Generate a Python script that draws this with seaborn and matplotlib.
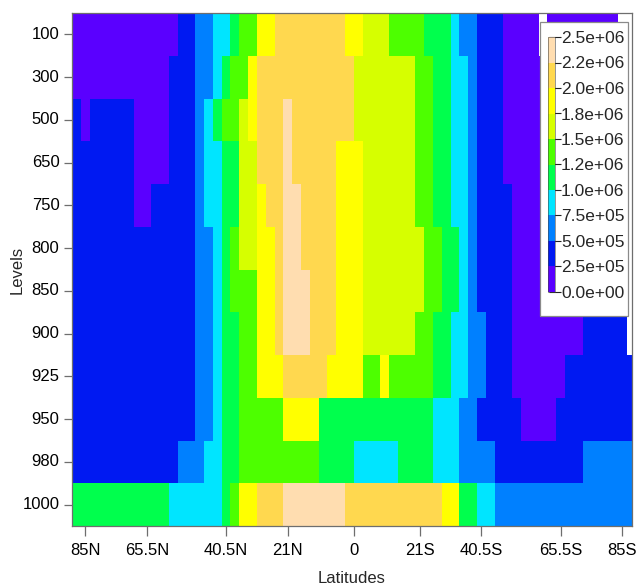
import numpy as np
import pandas as pd
import matplotlib
matplotlib.use("Agg")
import matplotlib.pyplot as plt
import matplotlib.colors as mcolors
import matplotlib.cm as cm
from matplotlib.patches import Rectangle
import seaborn as sns

nan = float("nan")

# Gaussian-grid latitudes (northern half), mirrored for the south
lat_north = [87.86, 85.10, 82.31, 79.53, 76.74, 73.95, 71.16, 68.37, 65.58, 62.79,
             60.00, 57.21, 54.42, 51.63, 48.84, 46.04, 43.25, 40.46, 37.67, 34.88,
             32.09, 29.30, 26.51, 23.72, 20.93, 18.14, 15.35, 12.56, 9.77, 6.98,
             4.19, 1.40]
lats = lat_north + [-v for v in reversed(lat_north)]

levels = ["100", "300", "500", "650", "750", "800", "850", "900", "925", "950", "980", "1000"]

# values in units of 1e6
lev_100 = [0.1,0.1,0.1,0.1,0.1,0.1,0.1,0.1,0.1,0.1,0.1,0.1,0.4,0.4,0.6,0.6,0.9,0.9,1.1,1.4,1.4,1.9,1.9,2.1,2.1,2.1,2.1,2.1,2.1,2.1,2.1,1.9,
           1.9,1.6,1.6,1.6,1.4,1.4,1.4,1.4,1.1,1.1,1.1,0.9,0.6,0.6,0.4,0.4,0.4,0.1,0.1,0.1,0.1,nan,0.1,0.1,0.1,0.1,0.1,0.1,0.1,0.1,nan,nan]
lev_300 = [0.1,0.1,0.1,0.1,0.1,0.1,0.1,0.1,0.1,0.1,0.1,0.4,0.4,0.4,0.6,0.6,0.9,1.1,1.4,1.4,1.9,2.1,2.1,2.1,2.1,2.1,2.1,2.1,2.1,2.1,2.1,2.1,
           1.6,1.6,1.6,1.6,1.6,1.6,1.6,1.4,1.4,1.1,1.1,0.9,0.9,0.6,0.4,0.4,0.4,0.1,0.1,0.1,0.1,0.1,0.1,0.1,0.1,0.1,0.4,0.4,0.4,0.4,0.4,nan]
lev_500 = [0.4,0.1,0.4,0.4,0.4,0.4,0.4,0.1,0.1,0.1,0.1,0.4,0.4,0.4,0.6,0.9,1.1,1.4,1.4,1.6,1.9,2.1,2.1,2.1,2.4,2.1,2.1,2.1,2.1,2.1,2.1,2.1,
           1.6,1.6,1.6,1.6,1.6,1.6,1.6,1.4,1.4,1.1,1.1,0.9,0.9,0.6,0.4,0.4,0.4,0.1,0.1,0.1,0.1,0.1,0.1,0.1,0.1,0.1,0.4,0.4,0.4,0.4,0.4,nan]
lev_650 = [0.4,0.4,0.4,0.4,0.4,0.4,0.4,0.1,0.1,0.1,0.1,0.4,0.4,0.4,0.6,0.9,0.9,1.1,1.1,1.6,1.6,2.1,2.1,2.1,2.4,2.1,2.1,2.1,2.1,2.1,1.9,1.9,
           1.9,1.6,1.6,1.6,1.6,1.6,1.6,1.4,1.4,1.1,1.1,0.9,0.9,0.6,0.4,0.4,0.4,0.1,0.1,0.1,0.1,0.1,0.1,0.1,0.1,0.1,0.4,0.4,0.4,0.4,0.4,nan]
lev_750 = [0.4,0.4,0.4,0.4,0.4,0.4,0.4,0.1,0.1,0.4,0.4,0.4,0.4,0.4,0.6,0.9,0.9,1.1,1.1,1.6,1.6,1.9,2.1,2.1,2.4,2.4,2.1,2.1,2.1,2.1,1.9,1.9,
           1.9,1.6,1.6,1.6,1.6,1.6,1.6,1.4,1.4,1.1,1.1,0.9,0.9,0.6,0.4,0.4,0.4,0.4,0.1,0.1,0.1,0.1,0.1,0.1,0.1,0.1,0.4,0.4,0.4,0.4,0.4,nan]
lev_800 = [0.4,0.4,0.4,0.4,0.4,0.4,0.4,0.4,0.4,0.4,0.4,0.4,0.4,0.4,0.6,0.6,0.9,1.1,1.4,1.6,1.6,1.9,1.9,2.1,2.4,2.4,2.1,2.1,2.1,2.1,1.9,1.9,
           1.9,1.6,1.6,1.6,1.6,1.6,1.6,1.6,1.4,1.4,1.1,1.1,0.9,0.6,0.4,0.4,0.4,0.4,0.1,0.1,0.1,0.1,0.1,0.1,0.1,0.1,0.4,0.4,0.4,0.4,0.4,nan]
lev_850 = [0.4,0.4,0.4,0.4,0.4,0.4,0.4,0.4,0.4,0.4,0.4,0.4,0.4,0.4,0.6,0.6,0.9,1.1,1.4,1.4,1.4,1.9,1.9,2.1,2.4,2.4,2.4,2.1,2.1,2.1,1.9,1.9,
           1.9,1.6,1.6,1.6,1.6,1.6,1.6,1.6,1.4,1.4,1.1,1.1,0.9,0.6,0.4,0.4,0.4,0.4,0.1,0.1,0.1,0.1,0.1,0.1,0.1,0.1,0.4,0.4,0.4,0.4,0.4,nan]
lev_900 = [0.4,0.4,0.4,0.4,0.4,0.4,0.4,0.4,0.4,0.4,0.4,0.4,0.4,0.4,0.6,0.6,0.9,1.1,1.1,1.4,1.4,1.9,1.9,2.1,2.4,2.4,2.4,2.1,2.1,2.1,1.9,1.9,
           1.9,1.6,1.6,1.6,1.6,1.6,1.6,1.4,1.4,1.1,1.1,0.9,0.9,0.6,0.6,0.4,0.4,0.4,0.1,0.1,0.1,0.1,0.1,0.1,0.1,0.1,0.4,0.4,0.4,0.4,0.4,nan]
lev_925 = [0.4,0.4,0.4,0.4,0.4,0.4,0.4,0.4,0.4,0.4,0.4,0.4,0.4,0.4,0.6,0.6,0.9,1.1,1.1,1.4,1.4,1.9,1.9,1.9,2.1,2.1,2.1,2.1,2.1,1.9,1.9,1.9,
           1.9,1.4,1.4,1.9,1.4,1.4,1.4,1.4,1.4,1.1,1.1,0.9,0.9,0.6,0.6,0.4,0.4,0.4,0.1,0.1,0.1,0.1,0.1,0.1,0.4,0.4,0.4,0.4,0.4,0.4,0.4,0.4]
lev_950 = [0.4,0.4,0.4,0.4,0.4,0.4,0.4,0.4,0.4,0.4,0.4,0.4,0.4,0.4,0.6,0.6,0.9,1.1,1.1,1.4,1.4,1.4,1.4,1.4,1.9,1.9,1.9,1.9,1.1,1.1,1.1,1.1,
           1.1,1.1,1.1,1.1,1.1,1.1,1.1,1.1,1.1,0.9,0.9,0.9,0.6,0.6,0.4,0.4,0.4,0.4,0.4,0.1,0.1,0.1,0.1,0.4,0.4,0.4,0.4,0.4,0.4,0.4,0.4,0.4]
lev_980 = [0.4,0.4,0.4,0.4,0.4,0.4,0.4,0.4,0.4,0.4,0.4,0.4,0.6,0.6,0.6,0.9,0.9,1.1,1.1,1.4,1.4,1.4,1.4,1.4,1.4,1.4,1.4,1.4,1.1,1.1,1.1,1.1,
           0.9,0.9,0.9,0.9,0.9,1.1,1.1,1.1,1.1,0.9,0.9,0.9,0.6,0.6,0.6,0.6,0.4,0.4,0.4,0.4,0.4,0.4,0.4,0.4,0.4,0.4,0.6,0.6,0.6,0.6,0.6,0.6]
lev_1000 = [1.1,1.1,1.1,1.1,1.1,1.1,1.1,1.1,1.1,1.1,1.1,0.9,0.9,0.9,0.9,0.9,0.9,1.1,1.4,1.9,1.9,2.1,2.1,2.1,2.4,2.4,2.4,2.4,2.4,2.4,2.4,2.1,
            2.1,2.1,2.1,2.1,2.1,2.1,2.1,2.1,2.1,2.1,1.9,1.9,1.1,1.1,0.9,0.9,0.6,0.6,0.6,0.6,0.6,0.6,0.6,0.6,0.6,0.6,0.6,0.6,0.6,0.6,0.6,0.6]

rows = [lev_100, lev_300, lev_500, lev_650, lev_750, lev_800, lev_850, lev_900,
        lev_925, lev_950, lev_980, lev_1000]
for r in rows:
    assert len(r) == 64, len(r)

tick_lats = [85.10, 65.58, 40.46, 20.93, 0.0, -20.93, -40.46, -65.58, -85.10]
tick_labels = ["85N", "65.5N", "40.5N", "21N", "0", "21S", "40.5S", "65.5S", "85S"]

bounds = [0.0, 0.25, 0.5, 0.75, 1.0, 1.25, 1.5, 1.75, 2.0, 2.25, 2.5]
bound_labels = ["0.0e+00", "2.5e+05", "5.0e+05", "7.5e+05", "1.0e+06", "1.2e+06",
                "1.5e+06", "1.8e+06", "2.0e+06", "2.2e+06", "2.5e+06"]
colors = ["#5A00FF", "#0019F2", "#0080FF", "#00E5FF", "#00FF4D",
          "#4DFF00", "#D6FF00", "#FFFF00", "#FFD84F", "#FFDDB0"]

df = pd.DataFrame(rows, index=levels, columns=lats)

cmap = mcolors.ListedColormap(colors)
norm = mcolors.BoundaryNorm(bounds, cmap.N)

sns.set_style("white")
plt.rcParams["font.family"] = ["Liberation Sans", "DejaVu Sans"]

FS = 12

fig = plt.figure(figsize=(6.36, 5.87), dpi=100)
ax = fig.add_axes([72 / 636, 1 - 526 / 587, 560 / 636, 513 / 587])
sns.heatmap(df, ax=ax, cmap=cmap, norm=norm, cbar=False, linewidths=0)
ax.set_xlim(0, 63.6)

frame_col = "#6e6e6e"
for s in ax.spines.values():
    s.set_visible(True)
    s.set_color(frame_col)
    s.set_linewidth(0.9)

col_pos = np.arange(len(lats)) + 0.5
tick_pos = np.interp([-t for t in tick_lats], [-v for v in lats], col_pos)
ax.set_xticks(tick_pos)
ax.set_xticklabels(tick_labels, rotation=0, fontsize=FS)
ax.set_yticks(np.arange(len(levels)) + 0.5)
ax.set_yticklabels(levels, rotation=0, fontsize=FS)
ax.tick_params(axis="both", which="both", direction="out", length=6, width=0.9,
               color=frame_col, labelcolor="black", pad=3,
               bottom=True, left=True, top=False, right=False)
ax.tick_params(axis="x", length=7, pad=5.5)
ax.set_xlabel("Latitudes", fontsize=FS)
ax.set_ylabel("Levels", fontsize=FS)
ax.xaxis.set_label_coords(0.5, (526 - 571) / 513)
ax.yaxis.set_label_coords((25 - 72) / 560, 0.5)

# colour key box inside the panel
fig.patches.append(Rectangle((540 / 636, 1 - 316 / 587), 88 / 636, 294 / 587,
                             transform=fig.transFigure, facecolor="white",
                             edgecolor="#8a8a8a", linewidth=0.9, zorder=5))
cax = fig.add_axes([548 / 636, 1 - 292 / 587, 7 / 636, 255 / 587], zorder=6)
sm = cm.ScalarMappable(norm=norm, cmap=cmap)
cb = fig.colorbar(sm, cax=cax, ticks=bounds, spacing="uniform")
cb.ax.set_yticklabels(bound_labels, fontsize=12.5)
cb.outline.set_linewidth(0.4)
cb.outline.set_edgecolor("#444444")
cb.ax.tick_params(direction="inout", length=8.5, width=0.8, color="#222222", pad=0)

fig.savefig("out.png", dpi=100)
